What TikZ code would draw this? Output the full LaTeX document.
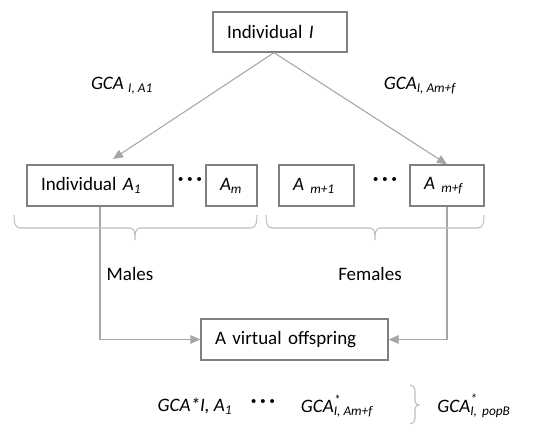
\documentclass[tikz,border=0pt]{standalone}
\usepackage{fontspec}
\setmainfont{Carlito}
\usetikzlibrary{arrows.meta,decorations.pathreplacing}
\definecolor{boxc}{HTML}{7F7F7F}
\definecolor{linec}{HTML}{A6A6A6}
\definecolor{bracec}{HTML}{BFBFBF}
\newcommand{\supsub}[2]{\rlap{\raisebox{0.1em}{\textsuperscript{#1}}}\textsubscript{#2}}
\begin{document}
\begin{tikzpicture}[x=0.75pt,y=-0.75pt,
  font=\fontsize{14.25}{17}\selectfont,
  box/.style={draw=boxc, line width=1pt, align=left, inner xsep=10.5pt, inner ysep=0pt, minimum height=30.75pt},
  conn/.style={draw=linec, line width=0.8pt, -{Triangle[length=7.5pt,width=6.5pt]}, color=linec},
  brc/.style={draw=bracec, line width=0.8pt},
  lab/.style={font=\fontsize{14.25}{17}\selectfont\itshape, inner sep=0pt},
  txt/.style={inner sep=0pt},
  dots/.style={inner sep=0pt, font=\fontsize{16}{17}\selectfont\bfseries}]
\useasboundingbox (0,0) rectangle (550,433);
% boxes
\node[box, text width=79.5pt, minimum height=30pt] (top) at (280,32) {Individual \textit{I}};
\node[box, text width=88.5pt] (a1) at (100,185.5) {Individual \textit{A}\textsubscript{\textit{1}}};
\node[box, text width=17.25pt] (am) at (231.5,185.5) {\textit{A}\textsubscript{\textit{m}}};
\node[box, text width=35.25pt] (am1) at (316.5,185.5) {\textit{A} \textsubscript{\textit{m+1}}};
\node[box, text width=34.5pt] (amf) at (447,185.5) {\textit{A} \textsubscript{\textit{m+f}}};
\node[box, text width=119.25pt] (off) at (294.5,339.5) {A virtual offspring};
% dots
\node[dots] (d1) at (190,182) {·\,·\,·};
\node[dots] (d2) at (385,182) {·\,·\,·};
\node[dots] (d3) at (263,404) {·\,·\,·};
% labels
\node[lab] (g1) at (122,86) {GCA \textsubscript{I, A1}};
\node[lab] (g2) at (420,86) {GCA\textsubscript{I, Am+f}};
\node[txt] (males) at (130,274) {Males};
\node[txt] (females) at (370,274) {Females};
\node[lab] (b1) at (195,406) {GCA*I, A\textsubscript{1}};
\node[lab] (b2) at (337,406) {GCA\supsub{*}{I, Am+f}};
\node[lab] (b3) at (474,406) {GCA\supsub{*}{I, \,popB}};
% connectors
\coordinate (tl) at (113,159);
\draw[conn] ([xshift=-4.5pt]top.south) -- (tl);
\draw[conn] ([xshift=-4.5pt]top.south) -- (amf.north);
\draw[conn] (a1.south) |- (off.west);
\draw[conn] (amf.south) |- (off.east);
% braces
\draw[brc] (14,215) to[out=-90,in=180] (20,228) -- (130,228) to[out=0,in=90] (135,240)
  to[out=90,in=180] (140,228) -- (251,228) to[out=0,in=-90] (257,215);
\draw[brc] (266,215) to[out=-90,in=180] (272,228) -- (370,228) to[out=0,in=90] (375,240)
  to[out=90,in=180] (380,228) -- (478,228) to[out=0,in=-90] (484,215);
\draw[brc] (410,385) to[out=0,in=90] (415,390) -- (415,401) to[out=-90,in=180] (419,405)
  to[out=180,in=90] (415,409) -- (415,419) to[out=-90,in=0] (410,424);
\end{tikzpicture}
\end{document}
